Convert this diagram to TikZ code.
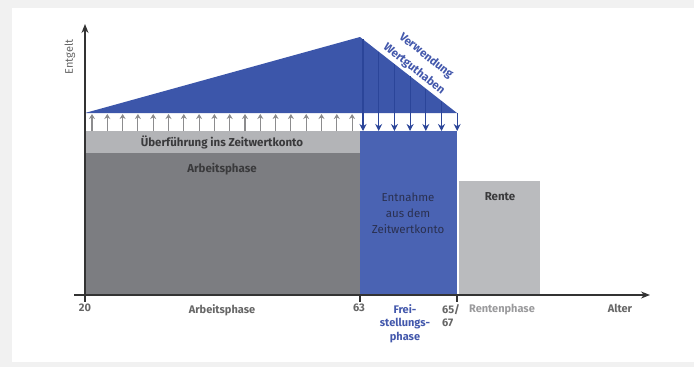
\documentclass[tikz,border=0pt]{standalone}
\usepackage{fontspec}
\setmainfont{Fira Sans}
\usetikzlibrary{arrows.meta}
\definecolor{framegray}{HTML}{F1F1F1}
\definecolor{darkgray}{HTML}{7C7D81}
\definecolor{bandgray}{HTML}{B3B4B7}
\definecolor{rentegray}{HTML}{BABBBE}
\definecolor{mainblue}{HTML}{3C56AA}
\definecolor{rectblue}{HTML}{4A63B3}
\definecolor{lineblue}{HTML}{2B4599}
\definecolor{textblue}{HTML}{4358AC}
\definecolor{axisgray}{HTML}{333333}
\definecolor{labelgray}{HTML}{666666}
\definecolor{lightlabel}{HTML}{9A9A9C}
\definecolor{upgray}{HTML}{8C8C8E}
\definecolor{innertext}{HTML}{3A3A3C}
\definecolor{entntext}{HTML}{2A3050}
\tikzset{
  area/.style={inner sep=0pt, outer sep=0pt, anchor=north west},
  lbl/.style={font=\fontsize{11.5}{13}\selectfont\bfseries, text=innertext, inner sep=0pt},
  axlbl/.style={font=\fontsize{11}{13.5}\selectfont\bfseries, text=labelgray, inner sep=0pt, anchor=north, align=center},
  axisline/.style={draw=axisgray, line width=1.3pt, -{Stealth[length=9pt,width=7pt]}},
  tick/.style={draw=axisgray, line width=1.3pt},
  uparr/.style={draw=upgray, line width=1.1pt, -{Stealth[length=5pt,width=6pt]}},
  downarr/.style={draw=lineblue, line width=1.1pt, -{Stealth[length=7pt,width=7pt]}},
  slopetext/.style={font=\fontsize{11.5}{13}\selectfont\bfseries, text=textblue, rotate=-38.5, inner sep=0pt},
}
\begin{document}
\begin{tikzpicture}[x=1pt,y=-1pt]
\useasboundingbox (0,0) rectangle (694,367);
\fill[framegray] (0,0) rectangle (694,367);
\fill[white] (12,8) rectangle (694,362);

% areas
\node[area, fill=darkgray, minimum width=275pt, minimum height=142pt] (arb) at (85,153) {};
\node[area, fill=bandgray, minimum width=275pt, minimum height=22pt] (band) at (85,131) {};
\node[area, fill=rectblue, minimum width=97pt, minimum height=164pt] (entn) at (360,131) {};
\node[area, fill=rentegray, minimum width=81pt, minimum height=114pt] (rente) at (459,181) {};

% blue triangle
\coordinate (tl) at (85,113);
\coordinate (peak) at (360,37);
\coordinate (tr) at (457,113);
\fill[mainblue] (tl) -- (peak) -- (tr) -- cycle;

% up arrows
\foreach \i in {0,...,17} {
  \coordinate (ua\i) at (92+15.3*\i,131);
  \coordinate (ub\i) at (92+15.3*\i,114);
  \draw[uparr] (ua\i) -- (ub\i);
}
% down arrows
\foreach \i in {0,...,6} {
  \pgfmathsetmacro{\xx}{363+15.7*\i}
  \pgfmathsetmacro{\yy}{37+76*(\xx-360)/97}
  \coordinate (da\i) at (\xx,\yy);
  \coordinate (db\i) at (\xx,131);
  \draw[downarr] (da\i) -- (db\i);
}

% labels inside
\node[lbl] (lband) at (222,142) {Überführung ins Zeitwertkonto};
\node[lbl] (larb) at (222,169) {Arbeitsphase};
\node[inner sep=0pt, align=center, font=\fontsize{11.5}{16}\selectfont, text=entntext] (lentn) at (408,213) {Entnahme\\aus dem\\Zeitwertkonto};
\node[lbl] (lrente) at (500,197) {Rente};
\node[slopetext] (verw) at (426,56) {Verwendung};
\node[slopetext] (wert) at (414,69) {Wertguthaben};

% axes
\coordinate (yo) at (85,296);
\coordinate (ytop) at (85,24);
\coordinate (xo) at (74,295);
\coordinate (xend) at (650,295);
\draw[axisline] (yo) -- (ytop);
\draw[axisline] (xo) -- (xend);
\node[font=\fontsize{11}{12}\selectfont, text=labelgray, rotate=90, inner sep=0pt] (entgelt) at (70,57) {Entgelt};

% ticks
\coordinate (t20) at (85,295);
\coordinate (t63) at (360,295);
\coordinate (t65) at (457,295);
\foreach \t in {t20,t63,t65} \draw[tick] (\t) -- ++(0,7);

% axis labels
\node[axlbl] (l20) at (85,304) {20};
\node[axlbl] (larbx) at (222,304) {Arbeitsphase};
\node[axlbl] (l63) at (359,304) {63};
\node[axlbl, text=textblue, font=\fontsize{11}{13.5}\selectfont\bfseries] (lfrei) at (405,304) {Frei-\\stellungs-\\phase};
\node[axlbl, anchor=north west, align=left] (l65) at (442,304) {65/\\67};
\node[axlbl, text=lightlabel] (lrentx) at (502,304) {Rentenphase};
\node[axlbl] (lalter) at (620,304) {Alter};
\end{tikzpicture}
\end{document}
